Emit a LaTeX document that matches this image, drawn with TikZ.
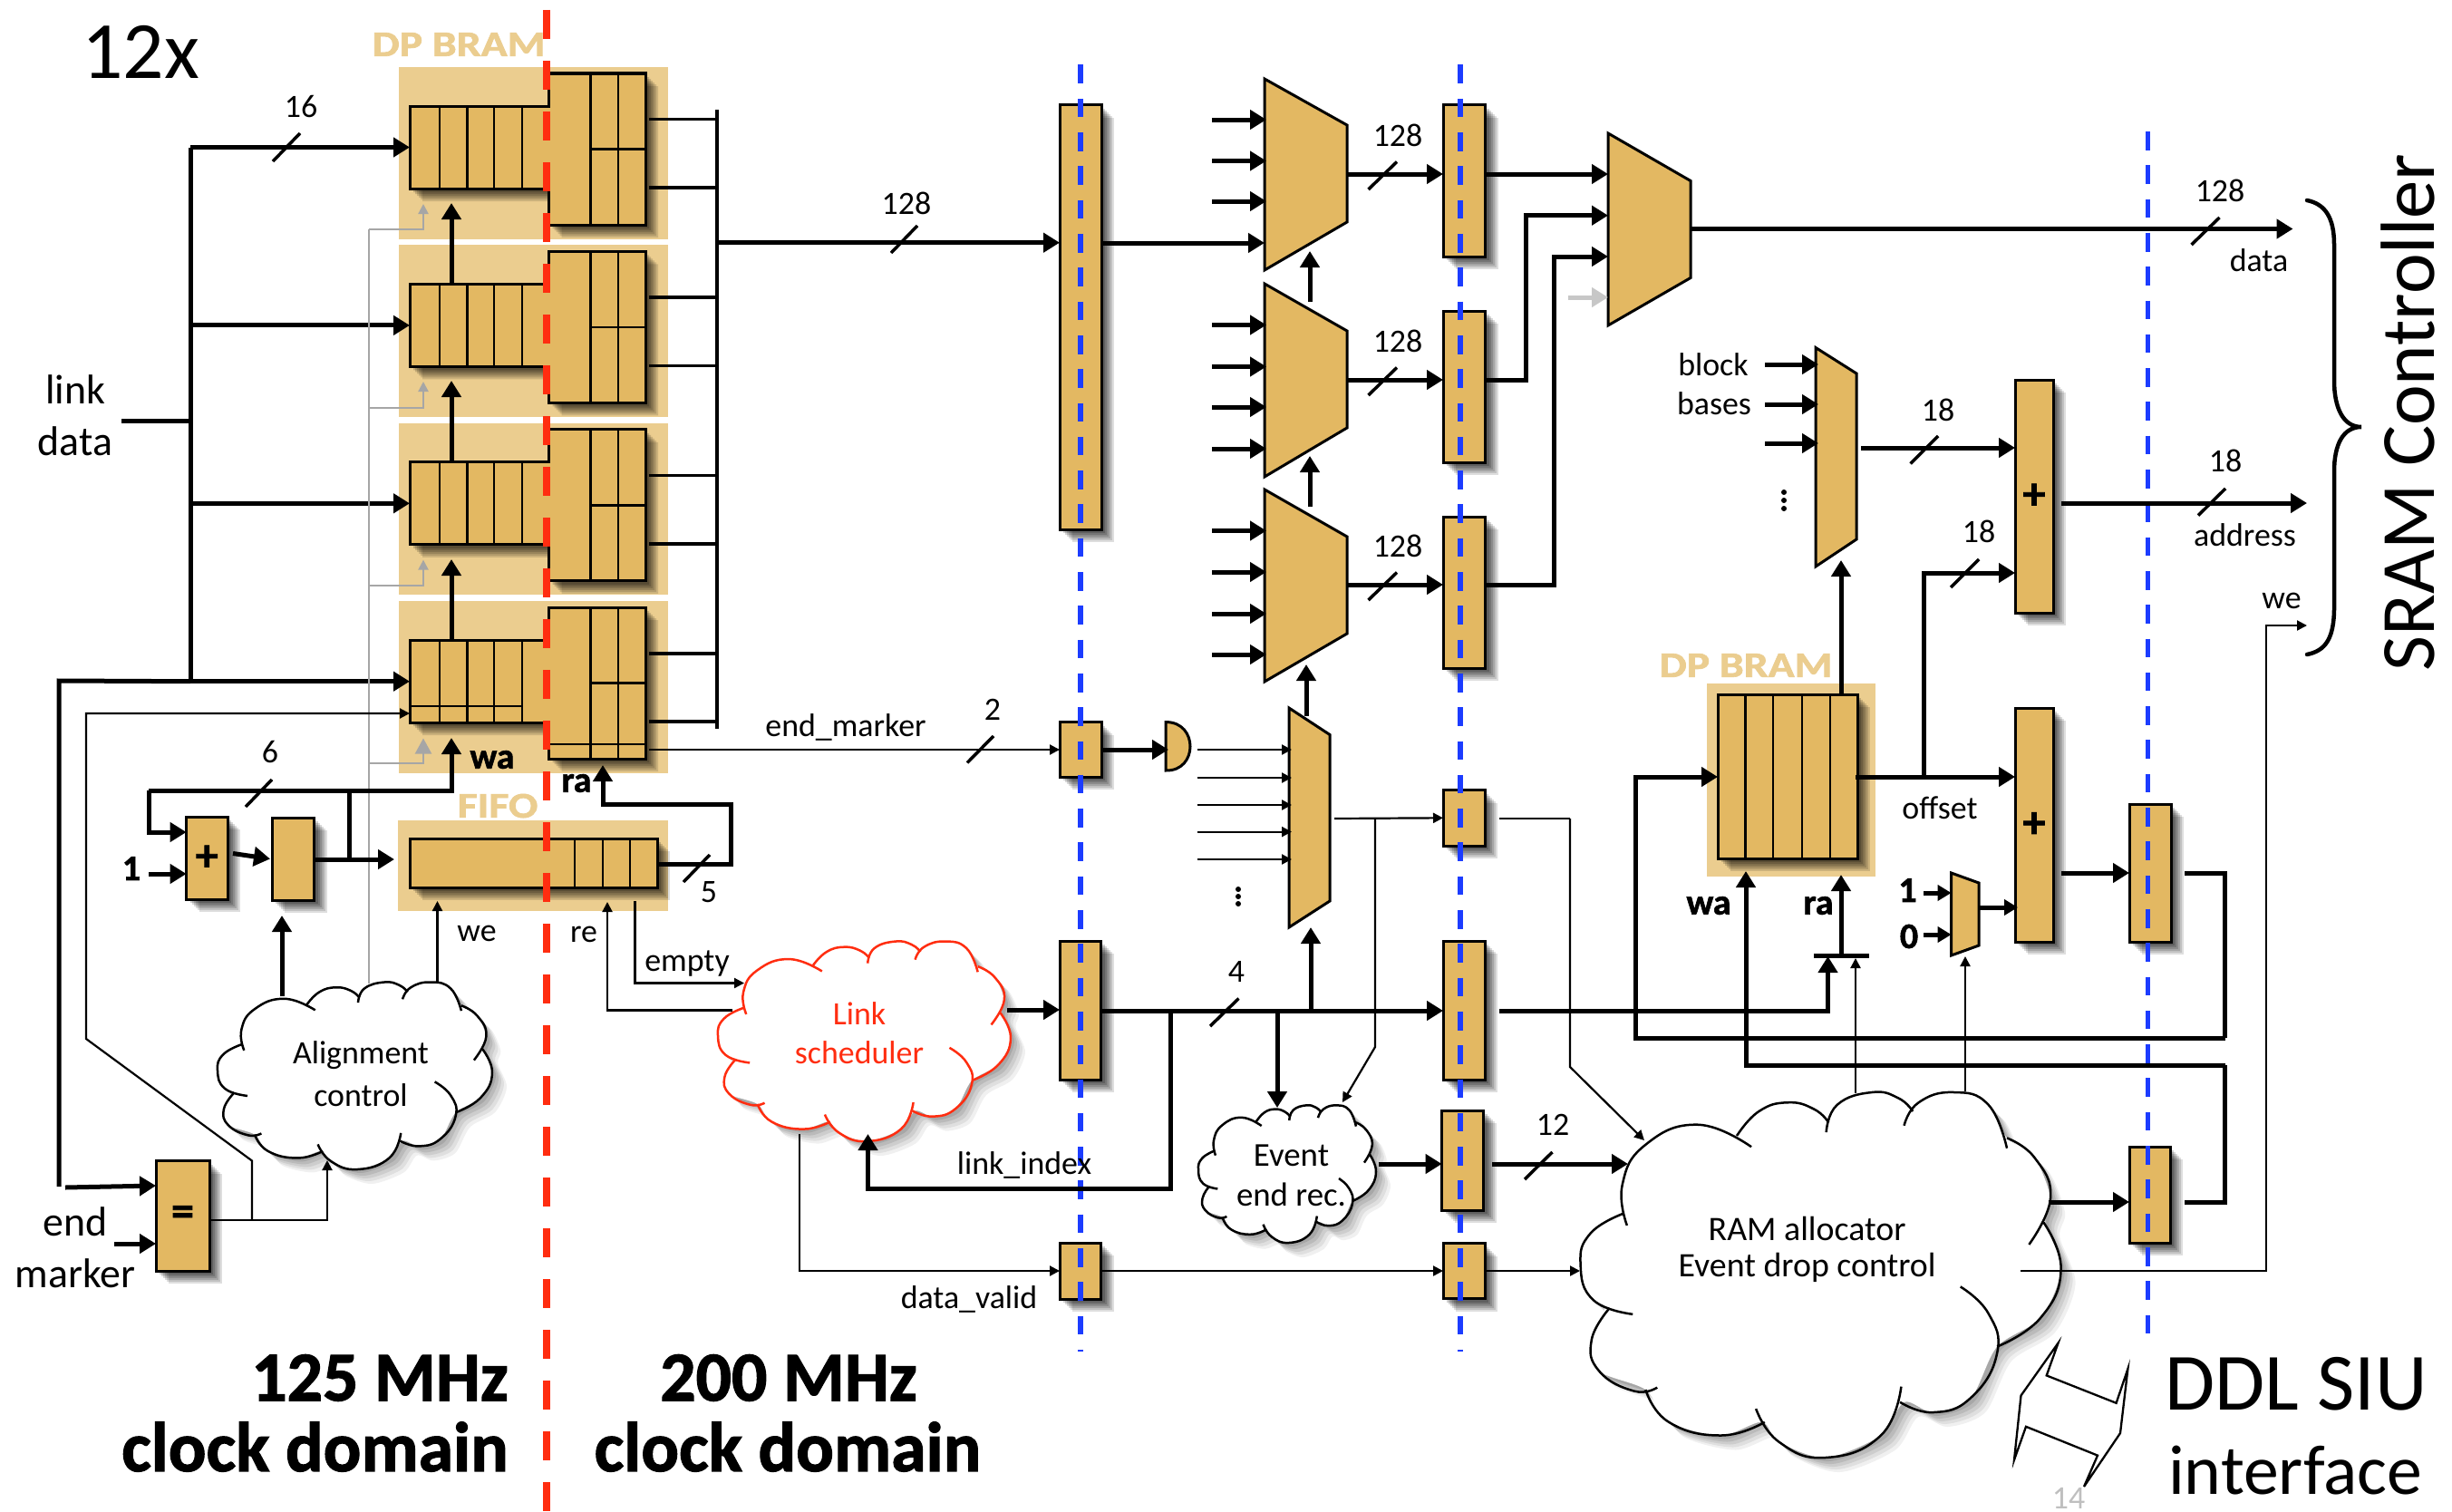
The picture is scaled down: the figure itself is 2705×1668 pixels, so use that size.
\documentclass[tikz,border=0pt]{standalone}
\usepackage{fontspec}
\setmainfont{Carlito}
\newfontfamily\hvy[BoldFeatures={FakeBold=1.5}]{Carlito}
\usetikzlibrary{arrows.meta,calc}
\definecolor{tanfill}{HTML}{E3B862}
\definecolor{tanbg}{HTML}{EBCD8F}
\definecolor{redclk}{HTML}{FF2D10}
\definecolor{bluclk}{HTML}{1C3CFF}
\definecolor{cloudred}{HTML}{FF2D10}
\newcommand{\fsz}[1]{\fontsize{#1}{#1}\selectfont}
\newcommand{\hv}[1]{\fontsize{#1}{#1}\selectfont\hvy\bfseries}
\newcommand{\plussign}{\raisebox{-5bp}{\hv{50}+}}
\tikzset{
  softshadow/.style={
    preaction={draw=none,fill=black,fill opacity=.13,transform canvas={shift={(14bp,-14bp)}}},
    preaction={draw=none,fill=black,fill opacity=.13,transform canvas={shift={(12bp,-12bp)}}},
    preaction={draw=none,fill=black,fill opacity=.14,transform canvas={shift={(10bp,-10bp)}}},
    preaction={draw=none,fill=black,fill opacity=.15,transform canvas={shift={(8bp,-8bp)}}},
    preaction={draw=none,fill=black,fill opacity=.16,transform canvas={shift={(6bp,-6bp)}}},
    preaction={draw=none,fill=black,fill opacity=.18,transform canvas={shift={(4bp,-4bp)}}}},
  cloudshadow/.style={
    preaction={draw=none,fill=black,fill opacity=.06,transform canvas={shift={(16bp,-16bp)}}},
    preaction={draw=none,fill=black,fill opacity=.07,transform canvas={shift={(13bp,-13bp)}}},
    preaction={draw=none,fill=black,fill opacity=.08,transform canvas={shift={(10bp,-10bp)}}},
    preaction={draw=none,fill=black,fill opacity=.09,transform canvas={shift={(7bp,-7bp)}}},
    preaction={draw=none,fill=black,fill opacity=.10,transform canvas={shift={(4bp,-4bp)}}}},
  regbox/.style={draw=black,line width=3bp,fill=tanfill,inner sep=0pt,outer sep=0pt,softshadow},
  hid/.style={inner sep=0pt,outer sep=0pt},
  muxshape/.style={draw=black,line width=3bp,fill=tanfill,line join=miter},
  tanpad/.style={fill=tanbg,draw=none},
  wb/.style={line width=5bp,draw=black},
  wm/.style={line width=3.5bp,draw=black},
  ws/.style={line width=2.2bp,draw=black},
  wg/.style={line width=2.2bp,draw=black!35},
  tipb/.style={-{Triangle[length=18bp,width=21bp]}},
  tips/.style={-{Triangle[length=11bp,width=11bp]}},
  tipm/.style={-{Triangle[length=15bp,width=17bp]}},
  tickm/.style={line width=3.5bp,draw=black},
  lab/.style={inner sep=0pt,font=\fsz{36}},
  biglab/.style={inner sep=0pt,font=\fsz{46}},
  boldlab/.style={inner sep=0pt,font=\hv{40}},
  headlab/.style={inner sep=0pt,font=\hv{78}},
  tanlab/.style={inner sep=0pt,text=tanbg,font=\hv{40}},
}
% register: name x1 y1 x2 y2 text
\newcommand{\reg}[6]{%
  \pgfmathsetmacro\rgw{#4-#2}\pgfmathsetmacro\rgh{#5-#3}%
  \pgfmathsetmacro\rgx{(#2+#4)/2}\pgfmathsetmacro\rgy{(#3+#5)/2}%
  \node[regbox,minimum width=\rgw bp,minimum height=\rgh bp] (#1) at (\rgx,\rgy) {#6};}
% mux: name xl xr tl tr br bl
\newcommand{\muxs}[7]{%
  \draw[muxshape] (#2,#4) -- (#3,#5) -- (#3,#6) -- (#2,#7) -- cycle;
  \pgfmathsetmacro\rgw{#3-#2}\pgfmathsetmacro\rgh{#7-#4}%
  \pgfmathsetmacro\rgx{(#2+#3)/2}\pgfmathsetmacro\rgy{(#4+#7)/2}%
  \node[hid,minimum width=\rgw bp,minimum height=\rgh bp] (#1) at (\rgx,\rgy) {};}
\newcommand{\tick}[4]{\draw[tickm] (#1,#2) -- (#3,#4);}
% cloud: name x0 y0 w h colour
\newcommand{\cloudshape}[6]{%
  \pgfmathsetmacro\csx{#4/827}\pgfmathsetmacro\csy{#5/825}%
  \begin{scope}[shift={(#2,#3)},x=\csx bp,y=-\csy bp,shift={(-68,-620)}]
    \fill[white,cloudshadow] plot[smooth cycle,tension=.5] coordinates {(140,830)(180,740)(270,695)(337,710)(375,665)(425,645)(470,660)(495,680)(510,650)(570,622)(615,635)(635,660)(650,645)(710,622)(770,650)(802,725)(850,770)(877,860)(868,915)(895,1020)(860,1130)(785,1195)(740,1310)(675,1343)(625,1320)(585,1395)(490,1445)(410,1410)(380,1365)(310,1395)(220,1365)(180,1292)(100,1250)(87,1180)(110,1108)(90,1090)(68,1010)(85,940)(142,895)};
    \begin{scope}[draw=#6,line width=2.5bp,tension=.8]
    \draw plot[smooth] coordinates {(148,922)(140,830)(180,740)(270,695)(362,745)};
    \draw plot[smooth] coordinates {(337,720)(375,665)(425,645)(470,660)(495,690)};
    \draw plot[smooth] coordinates {(491,712)(510,650)(570,622)(615,635)(640,665)};
    \draw plot[smooth] coordinates {(625,697)(650,645)(710,622)(770,650)(802,748)};
    \draw plot[smooth] coordinates {(802,725)(850,770)(877,860)(840,965)};
    \draw plot[smooth] coordinates {(865,915)(895,1020)(860,1130)(785,1195)};
    \draw plot[smooth] coordinates {(722,1060)(770,1120)(785,1210)(740,1310)(675,1343)(618,1320)};
    \draw plot[smooth] coordinates {(620,1285)(585,1395)(490,1445)(410,1410)(370,1335)};
    \draw plot[smooth] coordinates {(385,1365)(310,1395)(220,1365)(180,1292)};
    \draw plot[smooth] coordinates {(200,1287)(160,1295)(100,1250)(87,1180)(118,1108)};
    \draw plot[smooth] coordinates {(158,1122)(90,1090)(68,1010)(85,940)(142,895)};
    \end{scope}
  \end{scope}
  \pgfmathsetmacro\rgx{#2+#4/2}\pgfmathsetmacro\rgy{#3+#5/2}%
  \node[hid,minimum width=#4 bp,minimum height=#5 bp] (#1) at (\rgx,\rgy) {};}
\begin{document}
\begin{tikzpicture}[x=1bp,y=-1bp]
\useasboundingbox (0,0) rectangle (2705,1668);
\fill[white] (0,0) rectangle (2705,1668);

% ---- tan pads
\foreach \n/\off in {1/0,2/196.4,3/392.8,4/589.2}{
  \fill[tanpad] (440,74+\off) rectangle (737,263.5+\off);
}
\fill[tanpad] (439,905) rectangle (737,1005);
\fill[tanpad] (1883,754) rectangle (2069,967);

% ---- bus of the DP BRAM outputs
\coordinate (rbus) at (791,121);

% ---- DP BRAM units
\foreach \n/\off in {1/0,2/196.4,3/392.8,4/589.2}{
\begin{scope}[shift={(0,\off)}]
  \draw[regbox,line join=miter] (452,117) -- (605.5,117) -- (605.5,81) -- (712,81) -- (712,248) -- (605.5,248) -- (605.5,208) -- (452,208) -- cycle;
  \draw[line width=2.6bp] (485,117) -- (485,208) (515.5,117) -- (515.5,208) (545,117) -- (545,208) (576,117) -- (576,208);
  \draw[line width=2.6bp] (651.5,81) -- (651.5,248) (682,81) -- (682,248) (651.5,164.5) -- (712,164.5);
  \node[hid,minimum width=153.5bp,minimum height=91bp] (wr\n) at (528.75,162.5) {};
  \node[hid,minimum width=106.5bp,minimum height=167bp] (rd\n) at (658.75,164.5) {};
  \draw[wm] ($(rd\n.east |- 0,131.6)+(4,0)$) -- (rbus |- 0,131.6);
  \draw[wm] ($(rd\n.east |- 0,207)+(4,0)$) -- (rbus |- 0,207);
\end{scope}
}
\draw[line width=2.6bp] (452,779) -- (576,779) (605.5,821) -- (712,821);
\draw[wm] (rbus) -- (791,803.5);
\node[tanlab] (lbram1) at (506,49) {\scalebox{1.2}[1]{DP BRAM}};

% ---- FIFO
\node[tanlab] (lfifo) at (549,889) {\scalebox{1.2}[1]{FIFO}};
\reg{fifo}{452}{925}{725}{979}{}
\draw[line width=2.6bp] (634,925) -- (634,979) (665,925) -- (665,979) (695,925) -- (695,979);

% ---- left boxes
\reg{adda}{205.6}{901}{251}{992}{\plussign}
\reg{regc}{300}{902}{346.5}{993}{}
\reg{eqbox}{172}{1280.5}{231}{1402}{\hv{50}=}

% ---- pipeline registers
\reg{rega}{1169}{116}{1215}{584}{}
\reg{regb}{1169}{796.6}{1215}{857}{}
\reg{regd}{1169}{1038}{1214.5}{1191}{}
\reg{rege}{1169}{1371}{1214.5}{1433}{}
\reg{regf}{1592}{116}{1638.6}{283}{}
\reg{regg}{1592}{343}{1638.6}{510}{}
\reg{regh}{1592}{570}{1638.6}{737}{}
\reg{regi}{1592}{871.6}{1638}{933}{}
\reg{regj}{1592}{1038}{1638}{1191}{}
\reg{regk}{1590.6}{1225}{1636.6}{1335}{}
\reg{regl}{1592}{1371.6}{1638}{1432.7}{}
\reg{addb}{2223}{419}{2265}{676}{\plussign}
\reg{addc}{2223}{781}{2265}{1039}{\plussign}
\reg{regm}{2349}{887}{2395}{1039}{}
\reg{regn}{2349}{1265}{2394}{1371}{}

% ---- second DP BRAM
\reg{bramb}{1895}{766}{2049}{947}{}
\draw[line width=2.6bp] (1925.4,766) -- (1925.4,947) (1956,766) -- (1956,947) (1988,766) -- (1988,947) (2019,766) -- (2019,947);
\node[tanlab] (lbram2) at (1926,734) {\scalebox{1.2}[1]{DP BRAM}};

% ---- multiplexers
\muxs{muxa}{1395}{1486}{87}{138}{245}{298}
\muxs{muxb}{1395}{1486}{313}{365}{472}{526}
\muxs{muxc}{1395}{1486}{540}{592}{699}{752}
\muxs{muxd}{1774}{1865}{147}{199.5}{306.5}{359}
\muxs{muxe}{1422}{1467}{781}{810.5}{994}{1023}
\muxs{muxf}{2003}{2048}{383.5}{412}{595}{625}
\muxs{muxg}{2152.6}{2183}{963}{974}{1043}{1054}
\draw[muxshape] (1286,796.6) .. controls (1322,796) and (1322,851) .. (1286,850) -- cycle;
\node[hid,minimum width=27bp,minimum height=53bp] (andg) at (1299.5,823.3) {};

% ---- clouds
\cloudshape{calign}{240}{1083}{303}{207}{black}
\cloudshape{clink}{792}{1038}{323}{221}{cloudred}
\cloudshape{cevent}{1322}{1219}{196}{152}{black}
\cloudshape{cram}{1743.6}{1204}{530}{404}{black}
\node[lab] (talign1) at (398,1164) {Alignment};
\node[lab] (talign2) at (398,1208) {control};
\node[lab,text=cloudred] (tlink1) at (948,1118) {Link};
\node[lab,text=cloudred] (tlink2) at (948,1161) {scheduler};
\node[lab,font=\fsz{37}] (tevent1) at (1424.5,1275) {Event};
\node[lab,font=\fsz{37}] (tevent2) at (1424.5,1318) {end rec.};
\node[lab,font=\fsz{38}] (tram1) at (1993.6,1355) {RAM allocator};
\node[lab,font=\fsz{38}] (tram2) at (1993.6,1398) {Event drop control};

% ---- clock boundaries
\draw[bluclk,line width=5.8bp,dash pattern=on 20.6bp off 16.7bp] (1192,71.5) -- (1192,1491);
\draw[bluclk,line width=5.8bp,dash pattern=on 20.6bp off 16.7bp] (1611,71.5) -- (1611,1491);
\draw[bluclk,line width=5.8bp,dash pattern=on 20.6bp off 16.7bp] (2369.5,145) -- (2369.5,1473);
\draw[redclk,line width=8bp,dash pattern=on 32bp off 24bp] (603,11) -- (603,1668);

% ---- link data and writes
\coordinate (lbus) at (210,162.5);
\coordinate (ltop) at (65,751);
\draw[wb] (134,464.6) -- (lbus |- 0,464.6);
\draw[wb] (lbus) -- (lbus |- wr4.west);
\foreach \n in {1,2,3,4}{\draw[wb,tipb] (lbus |- wr\n.west) -- (wr\n.west);}
\draw[wb] (65,1309) -- (ltop) -- (lbus |- wr4.west);
\draw[wb,tipb] (72,1310) -- (eqbox.west |- 0,1308);
\draw[wb,tipb] (126,1372) -- (eqbox.west |- 0,1372);
\tick{301}{178}{331}{147}
\node[lab] (l16) at (332,118) {16};
\node[biglab] (tlink) at (83,430) {link};
\node[biglab] (tdata) at (83,487) {data};
\node[biglab] (tend) at (83,1348) {end};
\node[biglab] (tmark) at (83,1405) {marker};
\node[inner sep=0pt,font=\fsz{90}] (t12x) at (155,57) {12x};

% ---- gray ticks
\draw[wg] (407,1085) -- (407,253);
\draw[wg,tips] (407,253) -| (467,225);
\draw[wg,tips] (407,450) -| (467,421);
\draw[wg,tips] (407,645.6) -| (467,617.6);
\draw[wg,-{Triangle[length=17bp,width=18bp]}] (407,842) -| (467,814.5);

% ---- chain between the write registers
\draw[wb,tipb] (498,314) -- (498,224);
\draw[wb,tipb] (498,510.5) -- (498,420);
\draw[wb,tipb] (498,707.6) -- (498,617);
\node[boldlab] (twa) at (543,838) {wa};
\node[boldlab] (tra) at (636,864) {ra};

% ---- write counter
\coordinate (wfb) at (385,872);
\draw[wb,tipb] (164,872) -- (498,872) -- (498,814);
\draw[wb,tipb] (164,872) |- (adda.west |- 0,918);
\draw[wb,tipb] (164,964) -- (adda.west |- 0,964);
\draw[wb,tipb] ($(adda.east)+(6,-5)$) -- ($(regc.west)+(-2,0)$);
\draw[wb,tipb] (regc.east |- 0,948) -- ($(fifo.west |- 0,948)+(-17,0)$);
\draw[wb] (wfb) -- (385,948);
\tick{271}{890}{300}{860}
\node[lab] (l6) at (298,830) {6};
\node[boldlab] (tone) at (145,958) {1};
\draw[wb,tipb] (311,1099) -- (311,1010);

% ---- FIFO control
\draw[wb,tipb] (fifo.east |- 0,953) -- (806,953) -- (806,887) -- (665,887) -- (665,844);
\tick{754}{973}{783}{943}
\node[lab] (l5) at (782,984) {5};
\draw[ws,tips] (482.5,1083) -- (482.5,994);
\node[lab] (twe) at (526,1030) {we};
\node[lab] (tre) at (644,1031) {re};
\draw[ws,tips] (808,1114.5) -- (670,1114.5) -- (670,995);
\draw[ws,tips] (700.5,994) -- (700.5,1084.5) -- (821,1084.5);
\node[lab] (tempty) at (758,1063) {empty};

% ---- equal output
\draw[ws,tips] (eqbox.east |- 0,1346) -| (361,1280);
\draw[ws,tips] (278,1346) -- (278,1280.5) -- (95,1146) -- (95,787) -- (wr4.west |- 0,787);

% ---- heading text
\node[headlab,anchor=east] (t125) at (561,1520) {125 MHz};
\node[headlab,anchor=east] (tcd1) at (561,1596) {clock domain};
\node[headlab] (t200) at (870,1520) {200 MHz};
\node[headlab] (tcd2) at (869,1596) {clock domain};

% ---- data path
\draw[wb,tipb] (rbus |- 0,267.7) -- (rega.west |- 0,267.7);
\tick{983}{279}{1012}{249}
\node[lab] (l128a) at (1000,224) {128};
\draw[wb,tipb] (rega.east |- 0,268) -- (muxa.west |- 0,268);
\foreach \y in {132,177.5,222}{\draw[wb,tipb] (1337,\y) -- (1397,\y);}
\foreach \y in {358.5,404.5,449,495}{\draw[wb,tipb] (1337,\y) -- (1397,\y);}
\foreach \y in {585.5,631,677,722}{\draw[wb,tipb] (1337,\y) -- (1397,\y);}
\draw[wb,tipb] (1445,333) -- (1445,277);
\draw[wb,tipb] (1445,559) -- (1445,503);
\draw[wb,tipb] (1441,789.5) -- (1441,733);
\foreach \a/\b/\y/\s in {muxa/regf/192/x,muxb/regg/419/y,muxc/regh/645/z}{
  \draw[wb,tipb] (\a.east |- 0,\y) -- (\b.west |- 0,\y);
  \draw[tickm] (1509.5,\y+17) -- (1541,\y-13.5);
  \node[lab] (l128\s) at (1542,\y-42.5) {128};
}
\draw[wb,tipb] (regf.east |- 0,192) -- (muxd.west |- 0,192);
\draw[wb,tipb] (regg.east |- 0,419) -- (1683.5,419) -- (1683.5,237.7) -- (muxd.west |- 0,237.7);
\draw[wb,tipb] (regh.east |- 0,645) -- (1714,645) -- (1714,283) -- (muxd.west |- 0,283);
\draw[line width=5bp,draw=black!22,-{Triangle[length=18bp,width=21bp,fill=black!22]}] (1730,328) -- (muxd.west |- 0,328);
\draw[wb,tipb] (muxd.east |- 0,252.5) -- (2529.5,252.5);
\tick{2417.5}{270}{2448.5}{240}
\node[lab] (l128d) at (2449,210) {128};
\node[lab] (tdata2) at (2492,287) {data};

% ---- end marker path
\draw[ws,tips] ($(rd4.east |- 0,827)+(4,0)$) -- (regb.west |- 0,827);
\node[lab] (tem) at (933,802) {end\_marker};
\tick{1067}{841.5}{1096}{812}
\node[lab] (l2) at (1095,783) {2};
\draw[wb,tipb] (regb.east |- 0,827) -- ($(andg.west |- 0,827)+(3,0)$);
\foreach \y in {827,858,888,917.6,948}{\draw[ws,tips] (1320.5,\y) -- (1425,\y);}
\fill (1366,981) circle (3) (1366,989) circle (3) (1366,997) circle (3);
\draw[wb,tipb] (1446,1115) -- (1446,1023);
\draw[ws,tips] (1472,903) -- (regi.west);
\draw[ws] (1653.5,903) -- (1732,903);
\draw[ws,tips] (1732,903) -- (1732,1177) -- (1814,1258);
\draw[ws,tips] (1517,903) -- (1517,1155) -- (1481,1216);

% ---- link scheduler and index
\draw[wb,tipb] (1111,1114) -- (regd.west |- 0,1114);
\draw[wb,tipb] (regd.east |- 0,1115) -- (regj.west |- 0,1115);
\tick{1335}{1132}{1366.5}{1101.5}
\node[lab] (l4) at (1364,1071.6) {4};
\draw[wb,tipb] (1291.5,1115) -- (1291.5,1311) -- (957.5,1311) -- (957.5,1251);
\node[lab] (tli) at (1130,1285) {link\_index};
\draw[wb,tipb] (1409,1115) -- (1409,1222);
\draw[ws,tips] (882,1251) -- (882,1402) -- (rege.west |- 0,1402);
\node[lab] (tdv) at (1069,1433) {data\_valid};
\draw[ws,tips] (rege.east |- 0,1402) -- (regl.west |- 0,1402);
\draw[ws,tips] (regl.east |- 0,1402) -- (1743,1402);

% ---- event record out
\draw[wb,tipb] (1520.5,1284) -- (regk.west |- 0,1284);
\draw[wb,tipb] (1646,1284) -- (1796,1284);
\tick{1682}{1301}{1712.5}{1271}
\node[lab] (l12) at (1713,1241) {12};

% ---- address path
\node[lab] (tblock) at (1890,402) {block};
\node[lab] (tbases) at (1891,445) {bases};
\foreach \y in {402,446,489}{\draw[wb,tipb] (1947,\y) -- (2006,\y);}
\fill (1968,543) circle (3) (1968,552) circle (3) (1968,561) circle (3);
\draw[wb,tipb] (2053,494) -- (addb.west |- 0,494);
\tick{2107.5}{511.5}{2138}{481}
\node[lab] (l18a) at (2138,452) {18};
\draw[wb,tipb] (2031,765) -- (2031,618);
\draw[wb,tipb] (2047,857) -- (addc.west |- 0,857);
\draw[wb,tipb] (2122.5,857) -- (2122.5,632) -- (addb.west |- 0,632);
\tick{2152}{648}{2183}{617}
\node[lab] (l18b) at (2183,586.5) {18};
\node[lab] (toffs) at (2140,891) {offset};
\draw[wb,tipb] (2274,555) -- (2545,555);
\tick{2425}{568.6}{2455}{539}
\node[lab] (l18c) at (2455,508) {18};
\node[lab] (taddr) at (2476.5,590) {address};
\draw[ws,tips] (2229,1402) -- (2500,1402) -- (2500,690) -- (2545,690);
\node[lab] (twe2) at (2517,663) {we};

% ---- offset mux and adders
\node[boldlab] (tone2) at (2104.5,982) {1};
\node[boldlab] (tzero) at (2106,1033) {0};
\draw[wb,tipm] (2122,985) -- (muxg.west |- 0,985);
\draw[wb,tipm] (2122,1031) -- (muxg.west |- 0,1031);
\draw[wb,tipm] (muxg.east |- 0,1001) -- (2226,1001);
\draw[ws,tips] (2168,1204) -- (2168,1055);
\draw[wb,tipb] (2274,963) -- (regm.west |- 0,963);
\draw[wb,tipb] (2259.6,1326) -- (regn.west |- 0,1326);

% ---- feedback to the second BRAM
\draw[wb] (2410,963) -| (2454.5,1145);
\draw[wb,tipb] (2454.5,1145) -- (1804.5,1145) |- (bramb.west |- 0,857);
\draw[wb] (2410,1326) -| (2454.5,1175);
\draw[wb,tipb] (2454.5,1175) -- (1926,1175) -- (1926,961);
\node[boldlab] (twa2) at (1885,999) {wa};
\node[boldlab] (tra2) at (2006,999) {ra};
\draw[wb,tipb] (1653.5,1115) -- (2016.5,1115) -- (2016.5,1055);
\draw[ws,tips] (2047,1206) -- (2047,1057);
\draw[wb] (2001,1054) -- (2062,1054);
\draw[wb,tipb] (2031,1054) -- (2031,965);

% ---- SRAM brace and interface
\draw[line width=4.5bp,line cap=round] (2545,221) .. controls (2565,225) and (2575,240) .. (2575,270) -- (2575,420) .. controls (2575,450) and (2585,471) .. (2605,471) .. controls (2585,471) and (2575,490) .. (2575,520) -- (2575,670) .. controls (2575,705) and (2565,718) .. (2545,722);
\node[rotate=90,inner sep=0pt,font=\fsz{85}] (tsram) at (2656,455) {SRAM Controller};
\node[inner sep=0pt,font=\fsz{90}] (tddl) at (2533,1527) {DDL SIU};
\node[inner sep=0pt,font=\fsz{78}] (tifc) at (2532,1622) {interface};
\draw[line width=2.3bp,fill=white,line join=miter] (2270.5,1481.6) -- (2257.7,1517.4) -- (2334.6,1547.8) -- (2347.4,1510) -- (2339,1581) -- (2299,1640) -- (2314,1605.6) -- (2235,1573.8) -- (2222,1610.5) -- (2229.5,1539.5) -- cycle;
\node[inner sep=0pt,text=black!25,font=\fsz{36}] (l14) at (2282,1653) {14};
\end{tikzpicture}
\end{document}
